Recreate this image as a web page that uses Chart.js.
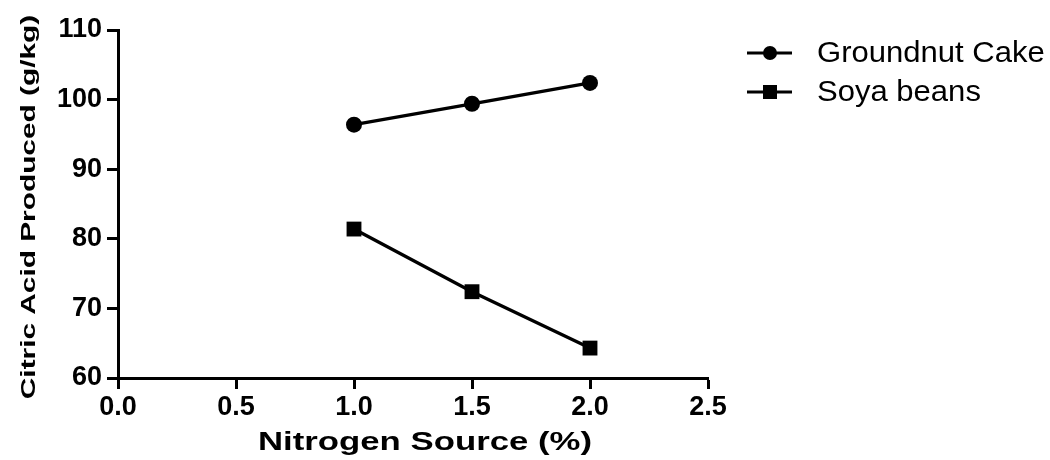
<!DOCTYPE html>
<html lang="en">
<head>
  <meta charset="UTF-8" />
  <title>Citric Acid vs Nitrogen Source</title>
  <script src="https://cdn.jsdelivr.net/npm/chart.js"></script>
  <style>
    html, body { margin: 0; padding: 0; background: #fff }
    #wrap { width: 1050px; height: 460px; position: relative }
  </style>
</head>
<body>
  <div id="wrap"><canvas id="chart"></canvas></div>

  <script>
    // data
    const nitrogenPct = [1.0, 1.5, 2.0];
    const groundnutCake = [96.4, 99.4, 102.4];
    const soyaBeans = [81.4, 72.4, 64.3];
    const seriesNames = ['Groundnut Cake', 'Soya beans'];
    const xTicks = [0.0, 0.5, 1.0, 1.5, 2.0, 2.5];
    const yTicks = [60, 70, 80, 90, 100, 110];
    const xTitle = 'Nitrogen Source (%)';
    const yTitle = 'Citric Acid Produced (g/kg)';

    const FONT = '"Liberation Sans", Arial, sans-serif';

    const toPoints = ys => nitrogenPct.map((x, i) => ({ x: x, y: ys[i] }));

    // titles are drawn stretched like the original figure, legend has line + marker
    const extras = {
      id: 'extras',
      afterDraw(chart) {
        const ctx = chart.ctx;
        const area = chart.chartArea;
        ctx.save();
        ctx.fillStyle = '#000';

        // x title
        ctx.save();
        ctx.font = 'bold 25px ' + FONT;
        ctx.textAlign = 'center';
        ctx.textBaseline = 'alphabetic';
        ctx.translate(425, 450);
        ctx.scale(1.39, 1);
        ctx.fillText(xTitle, 0, 0);
        ctx.restore();

        // y title
        ctx.save();
        ctx.font = 'bold 21px ' + FONT;
        ctx.textAlign = 'center';
        ctx.textBaseline = 'alphabetic';
        ctx.translate(35, (area.top + area.bottom) / 2 + 3);
        ctx.rotate(-Math.PI / 2);
        ctx.scale(1.42, 1);
        ctx.fillText(yTitle, 0, 0);
        ctx.restore();

        // legend
        const rows = [53, 92];
        chart.data.datasets.forEach((ds, i) => {
          const y = rows[i];
          ctx.strokeStyle = '#000';
          ctx.lineWidth = 3;
          ctx.beginPath();
          ctx.moveTo(747, y);
          ctx.lineTo(792, y);
          ctx.stroke();
          ctx.beginPath();
          if (ds.pointStyle === 'rect') {
            ctx.rect(770 - 7, y - 7, 14, 14);
          } else {
            ctx.arc(770, y, 7, 0, Math.PI * 2);
          }
          ctx.fill();
          ctx.save();
          ctx.font = '29px ' + FONT;
          ctx.textAlign = 'left';
          ctx.textBaseline = 'middle';
          ctx.translate(817, y + 1);
          ctx.scale(1.07, 1);
          ctx.fillText(ds.label, 0, 0);
          ctx.restore();
        });
        ctx.restore();
      }
    };

    const axisStyle = {
      grid: { drawOnChartArea: false, drawTicks: true, tickLength: 11, tickWidth: 3, tickColor: '#000' },
      border: { display: true, color: '#000', width: 3 },
      title: { display: false }
    };

    new Chart(document.getElementById('chart'), {
      type: 'line',
      data: {
        datasets: [
          {
            label: seriesNames[0],
            data: toPoints(groundnutCake),
            borderColor: '#000',
            backgroundColor: '#000',
            borderWidth: 3.3,
            pointStyle: 'circle',
            pointRadius: 8,
            pointBackgroundColor: '#000',
            pointBorderWidth: 0,
            tension: 0
          },
          {
            label: seriesNames[1],
            data: toPoints(soyaBeans),
            borderColor: '#000',
            backgroundColor: '#000',
            borderWidth: 3.3,
            pointStyle: 'rect',
            pointRadius: 10.5,
            pointBackgroundColor: '#000',
            pointBorderWidth: 0,
            tension: 0
          }
        ]
      },
      options: {
        responsive: true,
        maintainAspectRatio: false,
        animation: false,
        layout: { padding: { top: 30, right: 342, bottom: 0, left: 0 } },
        plugins: {
          legend: { display: false },
          tooltip: { enabled: false }
        },
        scales: {
          x: {
            type: 'linear',
            min: xTicks[0],
            max: xTicks[xTicks.length - 1],
            afterBuildTicks: s => { s.ticks = xTicks.map(v => ({ value: v })); },
            afterFit: s => { s.height = 82; },
            ticks: {
              color: '#000',
              font: { family: FONT, size: 27, weight: 'bold' },
              padding: 2,
              maxRotation: 0,
              callback: v => Number(v).toFixed(1)
            },
            ...axisStyle
          },
          y: {
            min: yTicks[0],
            max: yTicks[yTicks.length - 1],
            afterBuildTicks: s => { s.ticks = yTicks.map(v => ({ value: v })); },
            afterFit: s => { s.width = 118; },
            ticks: {
              color: '#000',
              font: { family: FONT, size: 27, weight: 'bold' },
              padding: 5
            },
            ...axisStyle
          }
        }
      },
      plugins: [extras]
    });
  </script>
</body>
</html>
